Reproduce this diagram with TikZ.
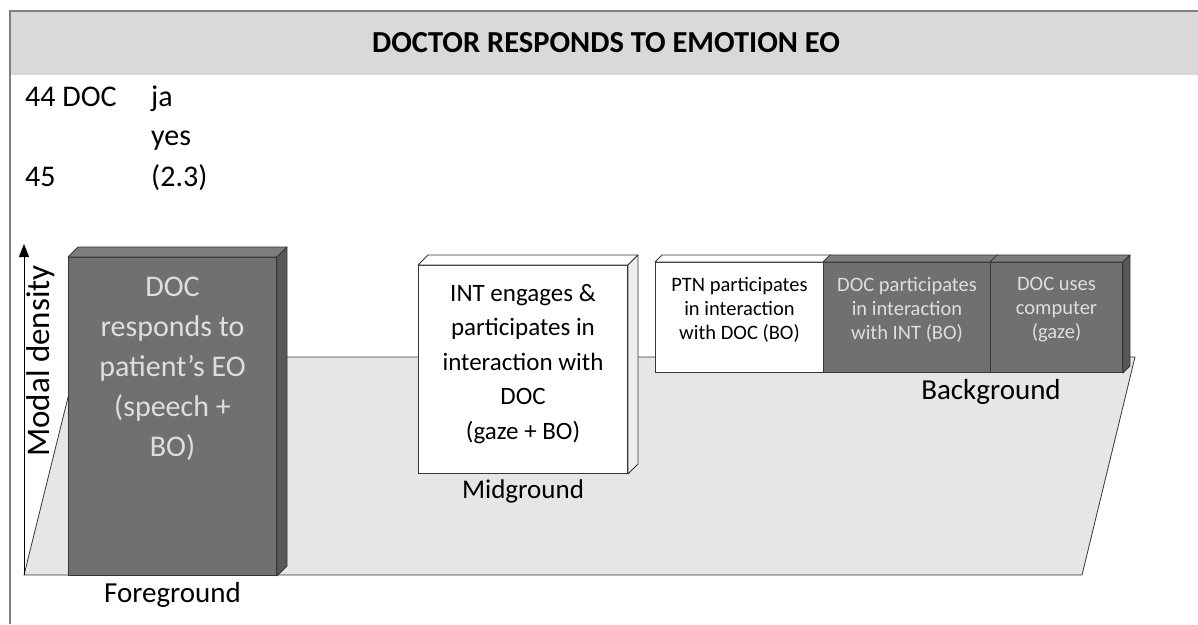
\documentclass[tikz,border=0pt]{standalone}
\usepackage{fontspec}
\setmainfont{Carlito}
\usetikzlibrary{arrows.meta,positioning}

\definecolor{framegray}{RGB}{128,128,128}
\definecolor{bandgray}{RGB}{217,217,217}
\definecolor{floorgray}{RGB}{230,230,230}
\definecolor{boxdark}{RGB}{112,112,112}
\definecolor{topdark}{RGB}{125,125,125}
\definecolor{sidedark}{RGB}{88,88,88}
\definecolor{sidelight}{RGB}{238,238,238}
\definecolor{edgegray}{RGB}{55,55,55}
\definecolor{paletext}{RGB}{222,222,222}

\tikzset{
  front/.style={draw=edgegray, line width=1pt, anchor=north west, inner sep=0pt, align=center},
  darkbox/.style={front, fill=boxdark, text=paletext},
  lightbox/.style={front, fill=white},
  face/.style={draw=edgegray, line width=0.8pt, line join=round},
  bigtext/.style={font=\fontsize{30}{40}\selectfont, inner sep=0pt},
  midtext/.style={font=\fontsize{25}{34.5}\selectfont, text depth=16pt},
  smalltext/.style={font=\fontsize{20.5}{24}\selectfont, text depth=19pt},
  ground/.style={font=\fontsize{29}{34}\selectfont, inner sep=0pt}
}

\begin{document}
\begin{tikzpicture}[x=1pt,y=-1pt]
\useasboundingbox (0,0) rectangle (1198,624);

% header band and frame
\fill[bandgray] (10,11) rectangle (1198,75);
\draw[framegray, line width=2pt] (1198,11) -- (10,11) -- (10,624);
\node[font=\fontsize{30.5}{36}\selectfont\bfseries, anchor=base] (title) at (606,52) {DOCTOR RESPONDS TO EMOTION EO};

% transcript lines
\node[bigtext, anchor=base west] (l44) at (25,106) {44 DOC};
\node[bigtext, anchor=base west] (ja) at (151,106) {ja};
\node[bigtext, anchor=base west] (yes) at (151,145) {yes};
\node[bigtext, anchor=base west] (l45) at (25,186) {45};
\node[bigtext, anchor=base west] (pause) at (151,186) {(2.3)};

% floor
\fill[floorgray, draw=edgegray, line width=0.8pt] (24,575) -- (78,357) -- (1135,357) -- (1082,575) -- cycle;

% axis
\coordinate (origin) at (24,575);
\coordinate (axtop) at (24,244);
\draw[line width=1pt, -{Triangle[length=13pt,width=10pt]}] (origin) -- (axtop);
\node[font=\fontsize{33}{38}\selectfont, inner sep=0pt, rotate=90] (density) at (41,361) {Modal density};

% front faces
\node[darkbox, minimum width=208, minimum height=318] (fg) at (68,257) {};
\node[lightbox, midtext, minimum width=209, minimum height=208] (mg) at (418,265)
  {INT engages \&\\participates in\\interaction with\\DOC\\(gaze + BO)};
\node[lightbox, smalltext, minimum width=168, minimum height=110] (bg1) at (655,262)
  {PTN participates\\in interaction\\with DOC (BO)};
\node[darkbox, smalltext, minimum width=167, minimum height=110] (bg2) at (823,262)
  {DOC participates\\in interaction\\with INT (BO)};
\node[darkbox, smalltext, minimum width=132, minimum height=110] (bg3) at (990,262)
  {DOC uses\\computer\\(gaze)};

% top and side faces
\foreach \b/\d/\c in {fg/10/topdark, mg/10/white, bg1/7/white, bg2/7/topdark, bg3/7/topdark}
  \filldraw[face, fill=\c] (\b.north west) -- ++(\d,-\d) -- ([shift={(\d,-\d)}]\b.north east) -- (\b.north east) -- cycle;
\foreach \b/\d/\c in {fg/10/sidedark, mg/10/sidelight, bg3/7/sidedark}
  \filldraw[face, fill=\c] (\b.north east) -- ++(\d,-\d) -- ([shift={(\d,-\d)}]\b.south east) -- (\b.south east) -- cycle;

\node[bigtext, align=center, text=paletext, below=20pt of fg.north] (fgtext)
  {DOC\\responds to\\patient’s EO\\(speech +\\BO)};

% ground labels
\node[ground, below=6pt of fg.south] (fglab) {Foreground};
\node[ground, font=\fontsize{27}{32}\selectfont, below=6pt of mg.south] (mglab) {Midground};
\node[ground, below=6pt of bg2.south east] (bglab) {Background};
\end{tikzpicture}
\end{document}
